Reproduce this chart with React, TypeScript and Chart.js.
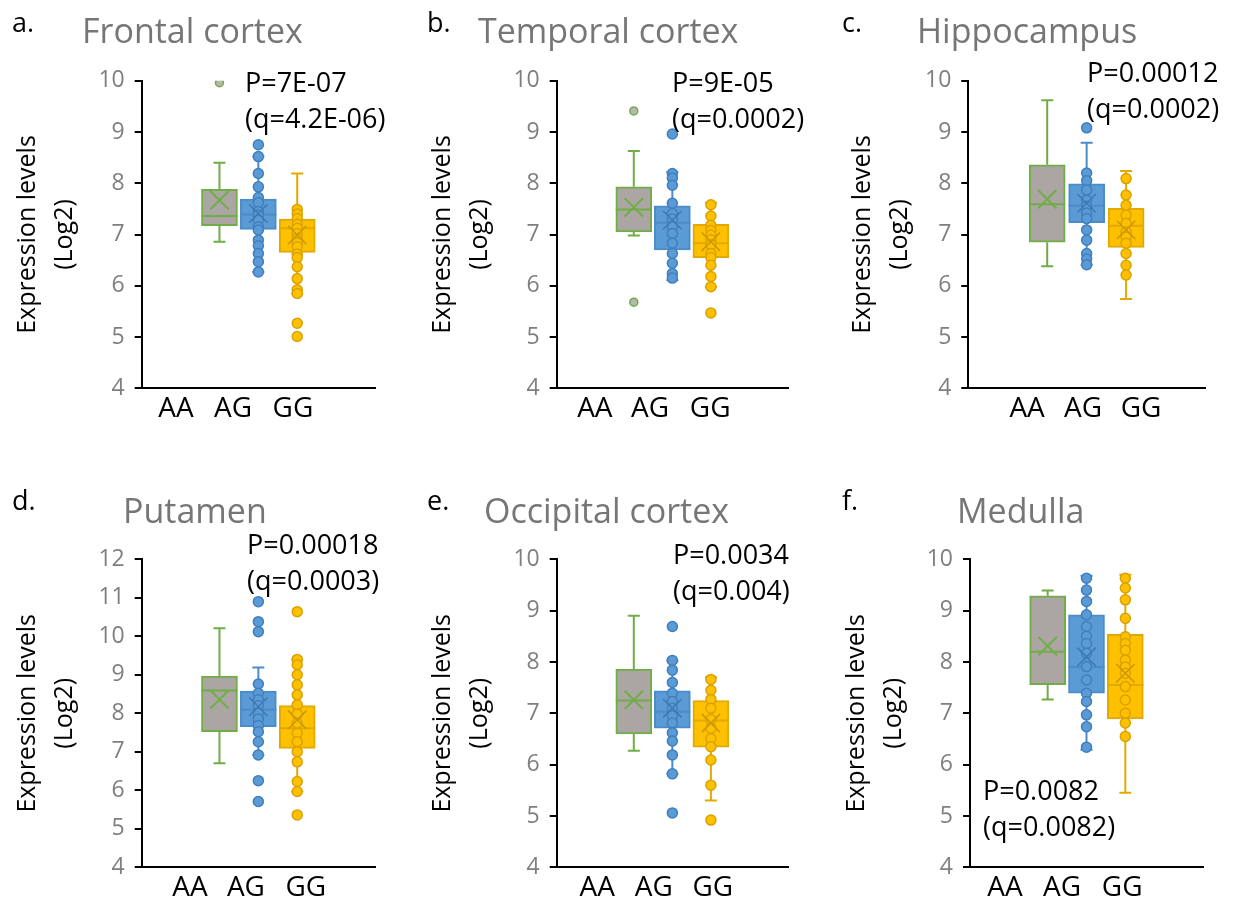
import React, { useEffect, useRef } from 'react';
import { Chart, registerables } from 'chart.js';
Chart.register(...registerables);

const FONT = "'Open Sans', sans-serif";
Chart.defaults.font.family = FONT;

const groups = ['AA', 'AG', 'GG'];
const boxX = [2, 3, 4];

// stats: [whiskerLow, q1, median, q3, whiskerHigh, mean]
const fcAA = [6.86, 7.17, 7.36, 7.88, 8.40, 7.67];
const fcAG = [6.27, 7.10, 7.39, 7.69, 8.52, 7.41];
const fcGG = [5.85, 6.65, 7.12, 7.30, 8.19, 6.99];
const fcAAPts = [9.96];
const fcAGPts = [8.75, 8.52, 8.19, 7.93, 7.72, 7.62, 7.45, 7.38, 7.28, 7.15, 7.09, 6.89, 6.78, 6.63, 6.47, 6.27];
const fcGGPts = [7.49, 7.40, 7.31, 7.20, 7.12, 7.02, 6.92, 6.84, 6.76, 6.62, 6.55, 6.37, 6.14, 5.92, 5.85, 5.27, 5.01];

const tcAA = [6.98, 7.05, 7.49, 7.93, 8.63, 7.53];
const tcAG = [6.11, 6.70, 7.23, 7.56, 8.22, 7.28];
const tcGG = [5.98, 6.55, 6.83, 7.20, 7.62, 6.86];
const tcAAPts = [9.41, 5.68];
const tcAGPts = [8.96, 8.19, 8.10, 7.96, 7.61, 7.41, 7.30, 7.15, 7.02, 6.83, 6.63, 6.44, 6.24, 6.15];
const tcGGPts = [7.58, 7.36, 7.18, 7.08, 6.99, 6.90, 6.80, 6.63, 6.55, 6.40, 6.18, 5.98, 5.47];

const hcAA = [6.38, 6.85, 7.59, 8.36, 9.62, 7.69];
const hcAG = [6.41, 7.23, 7.56, 7.99, 8.79, 7.61];
const hcGG = [5.74, 6.75, 7.17, 7.51, 8.24, 7.09];
const hcAAPts: number[] = [];
const hcAGPts = [9.08, 8.20, 8.05, 7.87, 7.67, 7.55, 7.42, 7.31, 7.09, 6.89, 6.63, 6.52, 6.41];
const hcGGPts = [8.09, 7.77, 7.57, 7.38, 7.22, 7.05, 6.95, 6.83, 6.63, 6.40, 6.21];

const puAA = [6.70, 7.52, 8.59, 8.97, 10.21, 8.36];
const puAG = [6.92, 7.65, 8.09, 8.58, 9.19, 8.17];
const puGG = [5.97, 7.09, 7.61, 8.20, 9.40, 7.83];
const puAAPts: number[] = [];
const puAGPts = [10.90, 10.38, 10.12, 8.76, 8.52, 8.35, 8.20, 8.00, 7.85, 7.68, 7.52, 7.26, 6.92, 6.25, 5.71];
const puGGPts = [10.64, 9.40, 9.26, 9.00, 8.74, 8.48, 8.22, 7.98, 7.74, 7.48, 7.26, 7.00, 6.74, 6.23, 5.97, 5.36];

const ocAA = [6.27, 6.60, 7.25, 7.86, 8.90, 7.26];
const ocAG = [5.82, 6.71, 7.03, 7.44, 8.03, 7.10];
const ocGG = [5.30, 6.34, 6.86, 7.25, 7.70, 6.81];
const ocAAPts: number[] = [];
const ocAGPts = [8.69, 8.03, 7.84, 7.60, 7.39, 7.23, 7.10, 6.95, 6.81, 6.62, 6.46, 6.19, 5.82, 5.06];
const ocGGPts = [7.66, 7.45, 7.27, 7.10, 6.88, 6.71, 6.51, 6.35, 6.09, 5.60, 4.92];

const meAA = [7.27, 7.56, 8.20, 9.29, 9.39, 8.31];
const meAG = [6.29, 7.39, 7.90, 8.92, 9.68, 8.10];
const meGG = [5.45, 6.89, 7.55, 8.54, 9.70, 7.78];
const meAAPts: number[] = [];
const meAGPts = [9.63, 9.40, 9.18, 8.92, 8.69, 8.50, 8.36, 8.17, 7.91, 7.65, 7.39, 7.23, 6.97, 6.74, 6.34];
const meGGPts = [9.63, 9.44, 9.21, 8.85, 8.49, 8.36, 8.23, 8.04, 7.90, 7.78, 7.52, 7.26, 7.00, 6.81, 6.55];

const letters = ['a.', 'b.', 'c.', 'd.', 'e.', 'f.'];
const titles = ['Frontal cortex', 'Temporal cortex', 'Hippocampus', 'Putamen', 'Occipital cortex', 'Medulla'];
const pTexts = ['P=7E-07', 'P=9E-05', 'P=0.00012', 'P=0.00018', 'P=0.0034', 'P=0.0082'];
const qTexts = ['(q=4.2E-06)', '(q=0.0002)', '(q=0.0002)', '(q=0.0003)', '(q=0.004)', '(q=0.0082)'];
const yMaxes = [10, 10, 10, 12, 10, 10];
const yTicks = [1, 1, 1, 1, 1, 1];

const panelStats = [
  [fcAA, fcAG, fcGG], [tcAA, tcAG, tcGG], [hcAA, hcAG, hcGG],
  [puAA, puAG, puGG], [ocAA, ocAG, ocGG], [meAA, meAG, meGG],
];
const panelPts = [
  [fcAAPts, fcAGPts, fcGGPts], [tcAAPts, tcAGPts, tcGGPts], [hcAAPts, hcAGPts, hcGGPts],
  [puAAPts, puAGPts, puGGPts], [ocAAPts, ocAGPts, ocGGPts], [meAAPts, meAGPts, meGGPts],
];

// layout (positions in axis units / page pixels)
const labelPos = [
  [0.88, 2.35, 3.89], [0.99, 2.42, 3.98], [1.49, 2.91, 4.38],
  [1.24, 2.68, 4.22], [1.05, 2.52, 4.05], [0.90, 2.37, 3.92],
];
const layouts = [
  { ox: 9, oy: 0, cw: 401, ch: 440, L: 141.7, R: 375, T: 80.7, B: 388.3 },
  { ox: 424, oy: 0, cw: 400, ch: 440, L: 556.7, R: 788, T: 80.7, B: 388.3 },
  { ox: 844, oy: 0, cw: 393, ch: 440, L: 968.3, R: 1205, T: 80.7, B: 388.3 },
  { ox: 9, oy: 450, cw: 401, ch: 450, L: 141.7, R: 375, T: 559.3, B: 867.3 },
  { ox: 424, oy: 450, cw: 400, ch: 450, L: 556.7, R: 788, T: 559.3, B: 867.3 },
  { ox: 838, oy: 450, cw: 399, ch: 450, L: 970, R: 1203, T: 559.3, B: 867.3 },
];
const letterPos = [[12, 32], [427, 32], [842, 32], [12, 510], [427, 510], [842, 510]];
const titlePos = [[82, 43.5], [478, 43.5], [917, 43.5], [123, 523], [484, 523], [957, 523]];
const pPos = [[245, 82], [672, 82], [1087, 72], [247, 544], [673, 554], [983, 790]];

const boxFill = ['#ABA6A3', '#5B9BD5', '#FFC000'];
const boxLine = ['#70AD47', '#4A8BC8', '#E2AA00'];
const meanLine = ['#70AD47', '#3E78B2', '#C99700'];
const ptFill = ['#B9B5B1', '#5B9BD5', '#FFC000'];
const ptLine = ['#70AD47', '#3F7FBF', '#D9A200'];

function makeBoxPlugin(stats: number[][]) {
  return {
    id: 'boxParts',
    beforeDatasetsDraw(chart: any) {
      const { ctx, scales } = chart;
      const x = scales.x, y = scales.y;
      ctx.save();
      ctx.lineWidth = 2;
      stats.forEach((s, i) => {
        const px = x.getPixelForValue(boxX[i]);
        ctx.strokeStyle = boxLine[i];
        ctx.beginPath();
        ctx.moveTo(px, y.getPixelForValue(s[0]));
        ctx.lineTo(px, y.getPixelForValue(s[1]));
        ctx.moveTo(px, y.getPixelForValue(s[3]));
        ctx.lineTo(px, y.getPixelForValue(s[4]));
        [s[0], s[4]].forEach((v) => {
          const py = y.getPixelForValue(v);
          ctx.moveTo(px - 6, py);
          ctx.lineTo(px + 6, py);
        });
        ctx.stroke();
      });
      ctx.restore();
    },
    afterDatasetDraw(chart: any, args: any) {
      if (args.index !== 0) return;
      const { ctx, scales } = chart;
      const y = scales.y;
      const meta = chart.getDatasetMeta(0);
      ctx.save();
      ctx.lineWidth = 2;
      meta.data.forEach((bar: any, i: number) => {
        const half = bar.width / 2;
        const py = y.getPixelForValue(stats[i][2]);
        ctx.strokeStyle = boxLine[i];
        ctx.beginPath();
        ctx.moveTo(bar.x - half, py);
        ctx.lineTo(bar.x + half, py);
        ctx.stroke();
      });
      ctx.restore();
    },
  };
}

export default function App() {
  const refs = useRef<(HTMLCanvasElement | null)[]>([]);

  useEffect(() => {
    const charts = layouts.map((lay, idx) => {
      const canvas = refs.current[idx] as HTMLCanvasElement;
      const stats = panelStats[idx];
      const pts = panelPts[idx];
      const yWidth = lay.L - lay.ox;
      const xHeight = lay.oy + lay.ch - lay.B;
      const datasets: any[] = [
        {
          type: 'bar',
          data: boxX.map((x, i) => ({ x, y: [stats[i][1], stats[i][3]] })),
          backgroundColor: boxFill,
          borderColor: boxLine,
          borderWidth: 2,
          borderSkipped: false,
          barThickness: 36,
          order: 4,
        },
      ];
      pts.forEach((arr, i) => {
        datasets.push({
          type: 'scatter',
          data: arr.map((v) => ({ x: boxX[i], y: v })),
          backgroundColor: ptFill[i],
          borderColor: ptLine[i],
          borderWidth: 1.5,
          pointRadius: i === 0 ? 4 : 5,
          order: 2,
        });
      });
      datasets.push({
        type: 'scatter',
        data: boxX.map((x, i) => ({ x, y: stats[i][5] })),
        pointStyle: 'crossRot',
        pointRadius: 13,
        borderColor: meanLine,
        borderWidth: [2, 1.5, 1.5],
        order: 1,
      });
      return new Chart(canvas, {
        type: 'bar',
        data: { datasets },
        plugins: [makeBoxPlugin(stats)],
        options: {
          responsive: false,
          animation: false,
          events: [],
          layout: {
            padding: { left: 0, top: lay.T - lay.oy, right: lay.ox + lay.cw - lay.R, bottom: 0 },
          },
          plugins: { legend: { display: false }, tooltip: { enabled: false } },
          scales: {
            x: {
              type: 'linear',
              min: 0,
              max: 6,
              offset: false,
              afterBuildTicks: (s: any) => {
                s.ticks = labelPos[idx].map((v) => ({ value: v }));
              },
              afterFit: (s: any) => {
                s.height = xHeight;
              },
              ticks: {
                autoSkip: false,
                maxRotation: 0,
                color: '#000',
                padding: 4,
                font: { size: 28, family: FONT },
                callback: (_v: any, i: number) => groups[i],
              },
              grid: { display: false, drawTicks: false },
              border: { display: true, color: '#000', width: 2 },
            },
            y: {
              type: 'linear',
              min: 4,
              max: yMaxes[idx],
              afterFit: (s: any) => {
                s.width = yWidth;
              },
              ticks: {
                stepSize: yTicks[idx],
                color: '#7f7f7f',
                padding: 10,
                font: { size: 23, family: FONT },
              },
              grid: { drawOnChartArea: false, drawTicks: true, tickLength: 7, color: '#000', lineWidth: 2 },
              border: { display: true, color: '#000', width: 2 },
              title: {
                display: true,
                text: ['Expression levels', '(Log2)'],
                color: '#000',
                padding: { top: 0, bottom: 0 },
                font: { size: 25, family: FONT, lineHeight: 1.48 },
              },
            },
          },
        } as any,
      });
    });
    return () => charts.forEach((c) => c.destroy());
  }, []);

  const textDiv = (key: string, text: string, x: number, baseline: number, size: number, color: string) => (
    <div
      key={key}
      style={{
        position: 'absolute',
        left: x,
        top: baseline - 0.888 * size,
        fontSize: size,
        lineHeight: `${size}px`,
        color,
        whiteSpace: 'nowrap',
        fontFamily: FONT,
      }}
    >
      {text}
    </div>
  );

  return (
    <div style={{ position: 'absolute', left: 0, top: 0, width: 1237, height: 900, background: '#fff', overflow: 'hidden' }}>
      {layouts.map((lay, i) => (
        <canvas
          key={'c' + i}
          ref={(el) => {
            refs.current[i] = el;
          }}
          width={lay.cw}
          height={lay.ch}
          style={{ position: 'absolute', left: lay.ox, top: lay.oy, width: lay.cw, height: lay.ch }}
        />
      ))}
      {letters.map((t, i) => textDiv('l' + i, t, letterPos[i][0], letterPos[i][1], 27, '#000'))}
      {titles.map((t, i) => textDiv('t' + i, t, titlePos[i][0], titlePos[i][1], 34, '#767676'))}
      {pTexts.map((t, i) => textDiv('p' + i, t, pPos[i][0], pPos[i][1] + 9.7, 27, '#000'))}
      {qTexts.map((t, i) => textDiv('q' + i, t, pPos[i][0], pPos[i][1] + 36 + 9.7, 27, '#000'))}
    </div>
  );
}
